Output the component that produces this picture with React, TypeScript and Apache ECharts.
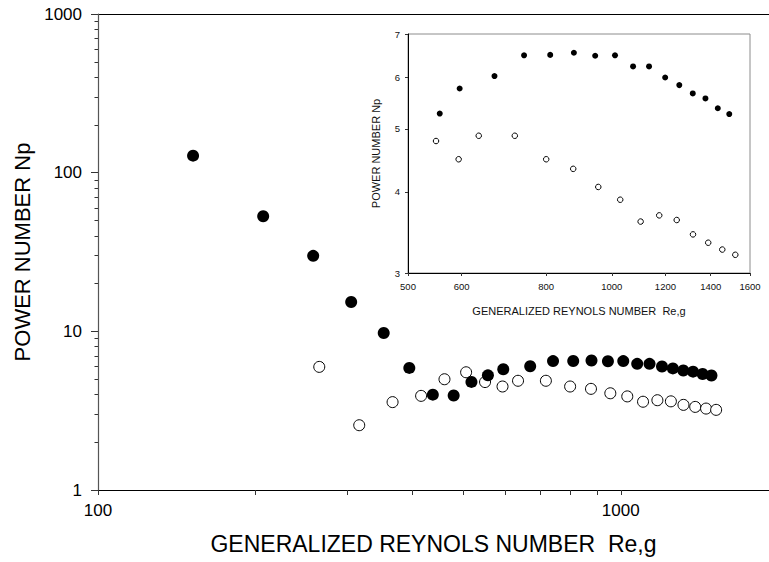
import React, { useEffect, useRef } from "react";
import * as echarts from "echarts";

// ---- Data ----
const filledRe = [152, 207, 258, 305, 352, 394, 437, 479, 518, 557, 596, 671, 742, 811, 879, 945, 1011, 1075, 1135, 1199, 1258, 1317, 1375, 1434, 1491];
const filledNp = [128, 53.1, 29.9, 15.3, 9.77, 5.88, 3.99, 3.94, 4.8, 5.28, 5.77, 6.03, 6.49, 6.5, 6.55, 6.48, 6.49, 6.24, 6.24, 6.0, 5.84, 5.67, 5.57, 5.38, 5.27];
const openRe = [265, 316, 366, 415, 460, 506, 550, 594, 636, 719, 800, 877, 955, 1029, 1103, 1175, 1247, 1318, 1388, 1456, 1522];
const openNp = [5.97, 2.56, 3.58, 3.92, 4.99, 5.52, 4.79, 4.49, 4.88, 4.88, 4.49, 4.34, 4.07, 3.89, 3.6, 3.68, 3.62, 3.44, 3.34, 3.26, 3.2];
// the inset repeats the high-Re part of each series
const insetFilledStart = 9;
const insetOpenStart = 6;

// ---- Tick values ----
const mainXLabels = [100, 1000];
const mainXTicks = [100, 200, 300, 400, 500, 600, 700, 800, 900, 1000];
const mainYLabels = [1, 10, 100, 1000];
const mainYMinorTicks = [2, 3, 4, 5, 6, 7, 8, 9, 20, 30, 40, 50, 60, 70, 80, 90, 200, 300, 400, 500, 600, 700, 800, 900];
const insetXLabels = [500, 600, 800, 1000, 1200, 1400, 1600];
const insetYLabels = [3, 4, 5, 6, 7];

const xTitle = "GENERALIZED REYNOLS NUMBER  Re,g";
const yTitle = "POWER NUMBER Np";

const FONT = 'Arial, "Liberation Sans", Helvetica, sans-serif';

const pairs = (xs: number[], ys: number[], start = 0) =>
  xs.slice(start).map((x, i) => [x, ys[start + i]]);

const fmt = (v: number) => String(Math.round(v));

function buildOption() {
  const noSplit = { show: false };
  return {
    animation: false,
    backgroundColor: "#ffffff",
    textStyle: { fontFamily: FONT },
    grid: [
      { left: 98, top: 14, right: 0, bottom: 72, outerBoundsMode: "none", containLabel: false },
      {
        left: 408, top: 34, width: 342, height: 239,
        outerBoundsMode: "none", containLabel: false,
        show: true, backgroundColor: "#ffffff", borderColor: "#8c8c8c", borderWidth: 1,
      },
    ],
    xAxis: [
      {
        gridIndex: 0, type: "log", min: 100, max: 1921, position: "bottom",
        axisLine: { show: true, lineStyle: { color: "#000", width: 1 } },
        axisTick: { show: true, length: 5, customValues: mainXTicks, lineStyle: { color: "#333" } },
        axisLabel: { customValues: mainXLabels, formatter: fmt, fontSize: 17, color: "#000", margin: 12, fontFamily: FONT },
        splitLine: noSplit, minorTick: { show: false }, minorSplitLine: { show: false },
        name: xTitle, nameLocation: "middle", nameGap: 42,
        nameTextStyle: { fontSize: 23, color: "#000", fontFamily: FONT },
        z: 3,
      },
      {
        gridIndex: 0, type: "log", min: 100, max: 1921, position: "top",
        axisLine: { show: true, lineStyle: { color: "#000", width: 1 } },
        axisTick: { show: false }, axisLabel: { show: false }, splitLine: noSplit,
      },
      {
        gridIndex: 1, type: "log", min: 500, max: 1600, position: "bottom",
        axisLine: { show: true, lineStyle: { color: "#000", width: 1 } },
        axisTick: { show: true, length: 3, customValues: insetXLabels, lineStyle: { color: "#333" } },
        axisLabel: { customValues: insetXLabels, formatter: fmt, fontSize: 9.5, color: "#111", margin: 8, fontFamily: FONT },
        splitLine: noSplit,
        name: xTitle, nameLocation: "middle", nameGap: 32,
        nameTextStyle: { fontSize: 11, color: "#111", fontFamily: FONT },
        z: 6,
      },
    ],
    yAxis: [
      {
        gridIndex: 0, type: "log", min: 1, max: 1000, position: "left",
        axisLine: { show: true, lineStyle: { color: "#555", width: 1.2 } },
        axisTick: { show: true, length: 7, customValues: mainYLabels, lineStyle: { color: "#333" } },
        axisLabel: { customValues: mainYLabels, formatter: fmt, fontSize: 17, color: "#000", margin: 16, fontFamily: FONT },
        splitLine: noSplit,
        name: yTitle, nameLocation: "middle", nameGap: 64,
        nameTextStyle: { fontSize: 22, color: "#000", fontFamily: FONT },
        z: 3,
      },
      {
        gridIndex: 0, type: "log", min: 1, max: 1000, position: "left",
        axisLine: { show: false },
        axisTick: { show: true, length: 3.5, customValues: mainYMinorTicks, lineStyle: { color: "#333" } },
        axisLabel: { show: false }, splitLine: noSplit,
      },
      {
        gridIndex: 1, type: "log", min: 3, max: 7, position: "left",
        axisLine: { show: true, lineStyle: { color: "#000", width: 1 } },
        axisTick: { show: true, length: 3, customValues: insetYLabels, lineStyle: { color: "#333" } },
        axisLabel: { customValues: insetYLabels, formatter: fmt, fontSize: 9.5, color: "#111", margin: 8, fontFamily: FONT },
        splitLine: noSplit,
        name: yTitle, nameLocation: "middle", nameGap: 27,
        nameTextStyle: { fontSize: 11, color: "#111", fontFamily: FONT },
        z: 6,
      },
    ],
    series: [
      {
        type: "scatter", xAxisIndex: 0, yAxisIndex: 0, symbol: "circle", symbolSize: 11,
        data: pairs(openRe, openNp),
        itemStyle: { color: "#ffffff", borderColor: "#000", borderWidth: 1, opacity: 1 },
        emphasis: { disabled: true }, z: 2,
      },
      {
        type: "scatter", xAxisIndex: 0, yAxisIndex: 0, symbol: "circle", symbolSize: 12,
        data: pairs(filledRe, filledNp),
        itemStyle: { color: "#000", opacity: 1 },
        emphasis: { disabled: true }, z: 3,
      },
      {
        type: "scatter", xAxisIndex: 2, yAxisIndex: 2, symbol: "circle", symbolSize: 5.5,
        data: pairs(openRe, openNp, insetOpenStart),
        itemStyle: { color: "#ffffff", borderColor: "#000", borderWidth: 1, opacity: 1 },
        emphasis: { disabled: true }, z: 7,
      },
      {
        type: "scatter", xAxisIndex: 2, yAxisIndex: 2, symbol: "circle", symbolSize: 6,
        data: pairs(filledRe, filledNp, insetFilledStart),
        itemStyle: { color: "#000", opacity: 1 },
        emphasis: { disabled: true }, z: 7,
      },
    ],
  };
}

export default function App() {
  const ref = useRef<HTMLDivElement>(null);
  useEffect(() => {
    if (!ref.current) return;
    const chart = echarts.init(ref.current, undefined, { renderer: "svg" });
    chart.setOption(buildOption() as any);
    return () => chart.dispose();
  }, []);
  return (
    <div
      ref={ref}
      style={{ position: "fixed", left: 0, top: 0, width: 769, height: 562, background: "#fff" }}
    />
  );
}
